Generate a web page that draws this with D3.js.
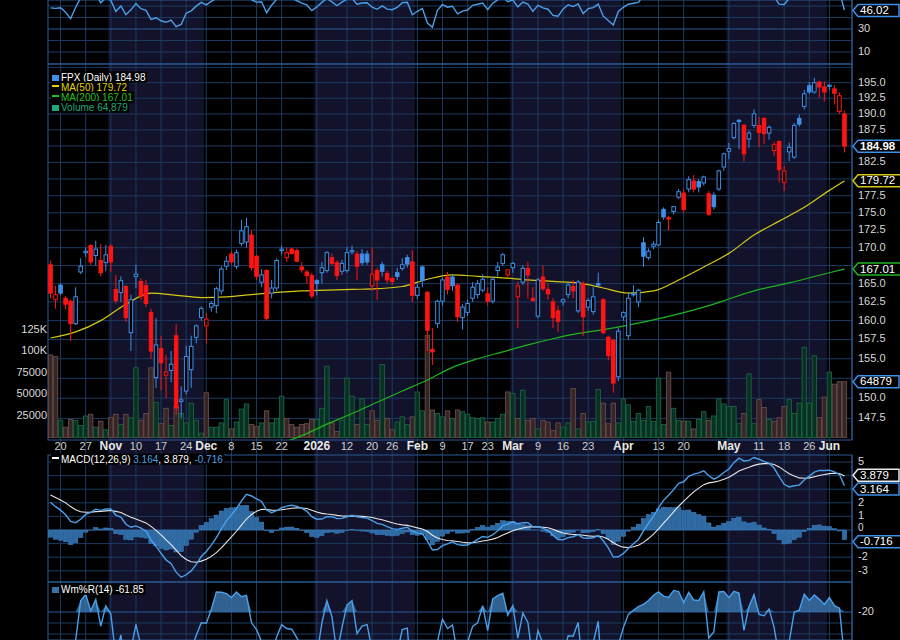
<!DOCTYPE html>
<html>
<head>
<meta charset="utf-8">
<script src="https://cdn.jsdelivr.net/npm/d3@7"></script>
<style>
  body { margin: 0; background: #000; }
  svg { display: block; font-family: "Liberation Sans", Arial, sans-serif; }
</style>
</head>
<body>
<svg id="chart" width="900" height="640"></svg>
<script>
// trading calendar
const firstDay = new Date(2025, 9, 16);
const lastDay = new Date(2026, 5, 6);
const holidays = ["2025-11-27", "2025-12-25", "2026-01-01", "2026-01-19", "2026-02-16", "2026-04-03", "2026-05-25"];

// daily prices
const opens = [167.6,162.8,164.8,163.0,162.6,159.6,166.6,169.3,170.3,168.9,168.2,167.9,170.2,164.2,163.8,164.6,158.4,166.0,165.3,164.7,
  161.1,152.6,156.3,152.9,153.5,158.0,149.6,150.9,153.6,157.8,160.4,159.3,161.8,162.0,164.0,167.4,169.1,167.4,170.6,170.8,
  171.8,168.8,165.2,166.8,163.7,164.4,169.6,168.6,169.8,169.6,167.3,166.6,166.1,165.4,166.5,166.8,168.6,167.9,166.7,166.8,
  169.4,169.1,169.1,169.1,164.7,166.8,167.6,166.4,165.7,166.5,167.1,168.6,168.0,163.4,167.3,163.8,156.2,159.6,162.6,165.9,
  165.9,164.8,160.4,161.1,163.0,163.5,164.1,163.6,162.6,166.8,167.8,166.2,167.2,163.2,165.2,167.1,163.0,160.6,165.9,164.2,
  162.5,161.3,162.5,163.5,164.6,161.3,165.0,161.8,161.2,165.0,162.8,157.8,157.4,152.7,160.5,158.0,163.5,162.5,170.7,168.6,
  170.2,170.4,175.5,174.3,175.2,177.3,177.9,178.5,179.7,179.6,179.4,177.8,177.6,178.5,181.8,184.2,186.3,189.0,188.2,186.1,
  188.2,188.2,189.3,187.0,184.3,185.7,179.5,184.1,183.3,189.3,191.2,194.5,193.5,195.1,194.3,194.4,194.0,190.4,190.0];
const highs = [168.2,164.7,165.0,163.3,162.8,164.5,168.5,170.0,170.5,171.0,170.5,170.4,170.5,166.2,166.0,164.8,163.5,167.6,165.7,165.5,
  161.6,160.3,158.0,155.5,156.0,159.5,151.5,156.7,158.0,159.5,161.9,161.0,162.6,164.6,167.4,168.8,169.5,169.7,174.0,174.3,
  172.5,169.0,167.0,167.0,165.5,168.5,170.3,170.0,170.0,169.9,168.0,166.9,166.5,165.6,168.0,169.5,169.2,168.2,168.3,170.1,
  170.3,169.5,169.8,169.6,170.0,167.2,168.0,166.8,166.0,167.2,168.5,169.0,169.6,165.0,167.5,164.0,159.0,162.8,165.8,166.6,
  166.2,165.0,162.2,162.8,165.2,165.5,166.3,164.5,165.9,168.0,169.3,167.0,168.0,165.3,167.5,168.0,164.5,165.8,167.5,165.0,
  163.0,162.0,163.0,165.2,165.5,165.5,165.3,163.0,164.5,166.5,163.0,158.0,157.6,159.0,161.2,163.8,164.8,164.3,171.5,169.9,
  170.9,174.0,175.8,174.6,176.0,178.5,178.5,180.4,180.6,180.0,180.5,178.2,178.0,181.4,184.0,185.5,188.7,189.2,188.4,187.4,
  190.7,189.5,189.5,188.2,185.6,185.9,182.0,185.5,188.6,189.9,193.8,195.1,195.8,195.3,195.2,194.8,194.6,193.4,190.5];
const lows = [163.0,161.6,163.4,161.5,157.3,159.4,166.3,168.7,167.6,167.5,166.0,166.7,166.6,162.3,162.5,159.8,156.0,164.4,162.8,161.8,
  155.0,151.3,151.0,150.0,152.0,148.0,147.5,150.5,151.3,157.0,160.0,157.0,161.2,161.0,163.5,166.9,167.6,167.0,170.2,170.0,
  166.8,165.5,164.5,160.0,163.0,164.0,169.0,168.0,169.0,168.0,166.5,165.0,163.0,163.4,165.0,166.5,167.5,165.5,166.2,166.5,
  169.0,165.5,167.5,167.6,164.0,162.8,166.0,165.0,164.8,165.5,166.8,167.2,162.5,162.9,164.5,156.0,154.2,159.0,162.0,163.5,
  164.0,159.8,158.8,160.6,162.5,163.0,163.8,162.0,162.3,166.0,167.4,165.8,166.5,159.0,164.8,163.0,162.5,160.3,164.0,162.8,
  159.0,158.5,162.0,163.0,163.0,161.0,158.0,161.3,160.8,164.5,158.2,154.8,150.7,152.2,160.0,157.5,163.2,161.8,167.3,168.3,
  169.8,170.2,174.0,172.5,174.8,177.0,175.0,178.0,178.0,178.0,179.0,174.5,175.5,178.2,181.2,183.0,186.0,184.5,182.6,184.7,
  187.8,184.8,185.3,186.0,183.5,179.5,178.2,182.7,183.0,188.0,190.7,193.2,193.2,192.6,192.0,193.8,191.5,190.0,184.0];
const closes = [163.7,163.5,163.7,162.2,159.6,163.2,167.4,169.5,168.0,169.8,166.5,169.0,168.0,162.7,165.4,160.4,162.8,166.3,163.3,162.3,
  156.0,156.8,154.5,153.3,154.3,148.8,149.8,155.3,156.6,159.3,161.6,160.2,162.3,164.3,167.0,168.1,168.0,169.3,172.4,173.0,
  167.2,166.0,166.2,160.3,164.4,168.2,169.8,169.3,169.2,168.1,166.9,166.1,163.3,165.0,167.2,169.3,167.8,166.1,167.8,169.3,
  169.6,167.4,167.9,168.0,166.3,165.5,166.7,165.5,165.3,166.0,167.6,167.7,163.4,164.5,165.4,158.7,155.9,162.6,165.5,164.2,
  164.7,160.5,161.8,162.3,164.5,165.0,165.6,162.6,165.6,167.3,169.0,166.9,167.8,164.7,167.1,166.2,162.7,165.5,164.3,163.6,
  160.4,159.9,162.8,164.8,164.0,165.2,160.5,162.7,163.2,164.8,158.4,155.4,151.9,158.6,161.1,163.0,163.6,164.1,168.8,169.5,
  170.5,173.6,174.4,174.1,175.9,178.1,175.5,179.9,178.5,178.8,180.3,174.8,175.9,181.2,183.8,184.6,188.5,188.8,183.8,187.0,
  190.0,187.1,186.9,187.9,185.2,181.4,181.2,184.8,188.2,188.4,193.2,193.5,195.0,194.3,193.5,194.6,193.3,192.9,184.98];
const volumes = [96000,94000,20000,12000,21000,20000,14000,25000,27000,12000,19000,9000,23000,27000,15000,27000,23000,81000,20000,28000,
  81000,41000,16000,34000,14000,36000,28000,17000,40000,20000,5000,52000,12000,12000,17000,44000,10000,18000,33000,39000,
  15000,13000,17000,31000,17000,22000,48000,22000,15000,12000,15000,16000,21000,21000,34000,83000,17000,7000,20000,69000,
  48000,15000,45000,15000,31000,20000,85000,22000,9000,18000,24000,15000,24000,53000,31000,119000,32000,28000,24000,31000,
  22000,32000,30000,27000,23000,22000,23000,18000,18000,22000,27000,53000,51000,22000,55000,20000,22000,10000,20000,18000,
  8000,17000,12000,17000,57000,10000,28000,18000,19000,56000,40000,16000,40000,17000,45000,38000,19000,28000,20000,36000,
  19000,69000,15000,76000,34000,20000,19000,19000,10000,21000,30000,20000,25000,45000,39000,36000,36000,16000,28000,74000,
  16000,44000,35000,21000,19000,23000,36000,44000,28000,40000,105000,40000,95000,23000,47000,76000,62000,64879,64879];

// moving averages (day index, value)
const ma50Days = [0,5,10,15,20,25,30,35,40,45,50,55,60,65,70,75,80,85,90,95,100,105,110,115,120,125,130,135,140,145,150,155,158];
const ma50 = [157.7,158.5,160.0,162.2,163.7,163.4,163.1,163.2,163.5,163.8,164.0,164.1,164.2,164.3,164.6,165.6,166.2,166.0,165.8,165.5,
  165.3,165.1,164.4,163.7,164.0,165.5,167.3,169.2,171.8,173.8,175.8,178.3,179.72];
const ma200Days = [45,50,55,60,65,70,75,80,85,90,95,100,105,110,115,120,125,130,135,140,145,150,155,158];
const ma200 = [144.3,145.4,146.8,148.1,149.5,150.9,152.3,153.9,155.0,155.9,156.8,157.6,158.3,158.8,159.4,160.1,160.9,161.8,162.9,164.0,
  164.8,165.6,166.5,167.01];

// indicator settings; seeds stand in for history left of the chart
const macdSeed = { ema12: 166.0, ema26: 163.6, signal: 2.7 };
const rsiSeed = { gain: 0.75, loss: 0.8 };
const priceTicks = d3.range(147.5, 197.6, 2.5);
const volTicks = [25000, 50000, 75000, 100000, 125000];
const macdTicks = [-3, -2, -1, 0, 1, 2, 3, 4, 5];

const svg = d3.select("#chart");
const W = 900, H = 640, L = 48, R = 852;
const P = { top: 64, bottom: 440 };          // price panel
const M = { top: 455, bottom: 582 };         // MACD panel
const WR = { top: 582, bottom: 640 };        // Williams %R

const blue = "#3d8fe8", red = "#ff1414", grid = "#1c3a60", gridHi = "#2b5b94";

// build trading dates
const hol = new Set(holidays);
const fmt = d3.timeFormat("%Y-%m-%d");
const dates = d3.timeDay.range(firstDay, lastDay).filter(d => d.getDay() > 0 && d.getDay() < 6 && !hol.has(fmt(d)));

const x = d3.scaleBand().domain(d3.range(dates.length)).range([L, R]);
const cx = i => x(i) + x.bandwidth() / 2;
const yP = d3.scaleLog().domain([145.18, 195]).range([437.5, 82.7]);
const yV = d3.scaleLinear().domain([0, 125000]).range([437.5, 330]);
const yM = d3.scaleLinear().domain([-3, 5]).range([570.8, 462]);
const yW = d3.scaleLinear().domain([-100, 0]).range([700, 590]);
const yR = d3.scaleLinear().domain([0, 50]).range([63.5, 6]);

svg.append("rect").attr("width", W).attr("height", H).attr("fill", "#000");

// month shading (Nov, Jan, Mar, May)
const monthStart = [];
dates.forEach((d, i) => { if (i === 0 || d.getMonth() !== dates[i - 1].getMonth()) monthStart.push(i); });
monthStart.forEach((s, k) => {
  const m = dates[s].getMonth();
  if (![10, 0, 2, 4].includes(m)) return;
  const e = k + 1 < monthStart.length ? monthStart[k + 1] : dates.length;
  svg.append("rect").attr("x", x(s)).attr("y", 0).attr("width", x(e - 1) + x.step() - x(s)).attr("height", H)
    .attr("fill", "#12122a");
});

// week / month labels
const labels = [];
let lastMonthLabel = -99;
dates.forEach((d, i) => {
  if (i === 0) return;
  const newWeek = d3.timeMonday.floor(d) > d3.timeMonday.floor(dates[i - 1]);
  const newMonth = d.getMonth() !== dates[i - 1].getMonth();
  if (newMonth) {
    labels.push({ i, text: d.getMonth() === 0 ? String(d.getFullYear()) : d3.timeFormat("%b")(d), bold: true });
    lastMonthLabel = i;
  } else if (newWeek) {
    if (i - lastMonthLabel < 4) return;
    const wkEnd = d3.timeDay.offset(d3.timeMonday.floor(d), 6);
    if (dates.some((q, j) => j > i && q <= wkEnd && q.getMonth() !== d.getMonth())) return;
    labels.push({ i, text: String(d.getDate()), bold: false });
  }
});

const g = svg.append("g");
labels.forEach(l => {
  g.append("line").attr("x1", cx(l.i)).attr("x2", cx(l.i)).attr("y1", 0).attr("y2", H)
    .attr("stroke", grid).attr("stroke-width", 1);
});
priceTicks.forEach(t => g.append("line").attr("x1", L).attr("x2", R).attr("y1", yP(t)).attr("y2", yP(t)).attr("stroke", grid));
[10, 20, 40, 50].forEach(t => g.append("line").attr("x1", L).attr("x2", R).attr("y1", yR(t)).attr("y2", yR(t)).attr("stroke", grid));
g.append("line").attr("x1", L).attr("x2", R).attr("y1", yR(30)).attr("y2", yR(30)).attr("stroke", gridHi);
macdTicks.forEach(t => g.append("line").attr("x1", L).attr("x2", R).attr("y1", yM(t)).attr("y2", yM(t)).attr("stroke", grid));
[-30, -40].forEach(t => g.append("line").attr("x1", L).attr("x2", R).attr("y1", yW(t)).attr("y2", yW(t)).attr("stroke", grid));
g.append("line").attr("x1", L).attr("x2", R).attr("y1", yW(-20)).attr("y2", yW(-20)).attr("stroke", gridHi);

// panel frames
[[0, P.top], [P.top, P.bottom], [M.top, M.bottom], [WR.top, H]].forEach(([a, b]) => {
  svg.append("rect").attr("x", L).attr("y", a).attr("width", R - L).attr("height", b - a)
    .attr("fill", "none").attr("stroke", gridHi).attr("stroke-width", 1);
});

// clip paths
const defs = svg.append("defs");
const clip = (id, a, b) => defs.append("clipPath").attr("id", id).append("rect").attr("x", L).attr("y", a).attr("width", R - L).attr("height", b - a);
clip("cP", P.top, P.bottom); clip("cR", 0, P.top); clip("cM", M.top, M.bottom); clip("cW", WR.top, H);

// volume
const pv = svg.append("g").attr("clip-path", "url(#cP)");
closes.forEach((c, i) => {
  const up = i === 0 ? c >= opens[i] : c >= closes[i - 1];
  pv.append("rect").attr("x", x(i) + 0.3).attr("width", x.step() - 0.6)
    .attr("y", yV(volumes[i])).attr("height", yV(0) - yV(volumes[i]))
    .attr("fill", up ? "#0a3021" : "#362525").attr("stroke", up ? "#1b6a48" : "#705050").attr("stroke-width", 0.8);
});

// moving averages
const line = d3.line().x(d => cx(d[0])).y(d => yP(d[1])).curve(d3.curveMonotoneX);
pv.append("path").attr("d", line(ma200Days.map((d, k) => [d, ma200[k]]))).attr("fill", "none").attr("stroke", "#1fb51f").attr("stroke-width", 1.2);
pv.append("path").attr("d", line(ma50Days.map((d, k) => [d, ma50[k]]))).attr("fill", "none").attr("stroke", "#d4c814").attr("stroke-width", 1.2);

// candles: colour vs previous close, filled when close < open
closes.forEach((c, i) => {
  const o = opens[i];
  const col = (i === 0 ? c >= o : c >= closes[i - 1]) ? blue : red;
  const filled = c < o;
  const bw = x.bandwidth() * 0.7;
  pv.append("line").attr("x1", cx(i)).attr("x2", cx(i)).attr("y1", yP(highs[i])).attr("y2", yP(lows[i]))
    .attr("stroke", col).attr("stroke-width", 1);
  const top = yP(Math.max(o, c)), bot = yP(Math.min(o, c));
  pv.append("rect").attr("x", cx(i) - bw / 2).attr("y", top).attr("width", bw).attr("height", Math.max(1, bot - top))
    .attr("fill", filled ? col : "#000").attr("stroke", col).attr("stroke-width", 1);
});

// RSI(14) from closes (Wilder smoothing)
const rsi = [];
let ag = rsiSeed.gain, al = rsiSeed.loss;
closes.forEach((c, i) => {
  if (i > 0) {
    const ch = c - closes[i - 1];
    ag = (ag * 13 + Math.max(ch, 0)) / 14;
    al = (al * 13 + Math.max(-ch, 0)) / 14;
  }
  rsi.push(100 - 100 / (1 + ag / al));
});
svg.append("g").attr("clip-path", "url(#cR)").append("path")
  .attr("d", d3.line().x((d, i) => cx(i)).y(d => yR(d))(rsi))
  .attr("fill", "none").attr("stroke", "#4aa0ea").attr("stroke-width", 1.4);

// MACD(12,26,9)
let e12 = macdSeed.ema12, e26 = macdSeed.ema26, sig = macdSeed.signal;
const macd = [], signal = [];
closes.forEach(c => {
  e12 += (c - e12) * 2 / 13; e26 += (c - e26) * 2 / 27;
  const m = e12 - e26; sig += (m - sig) * 2 / 10;
  macd.push(m); signal.push(sig);
});
const pm = svg.append("g").attr("clip-path", "url(#cM)");
macd.forEach((m, i) => {
  const h = m - signal[i];
  pm.append("rect").attr("x", x(i) + 0.3).attr("width", x.step() - 0.6)
    .attr("y", Math.min(yM(h), yM(0))).attr("height", Math.abs(yM(h) - yM(0)))
    .attr("fill", "#2f6aa3").attr("stroke", "#3f86c8").attr("stroke-width", 0.5);
});
const ml = d3.line().x((d, i) => cx(i)).y(d => yM(d));
pm.append("path").attr("d", ml(signal)).attr("fill", "none").attr("stroke", "#e8e8e8").attr("stroke-width", 1.1);
pm.append("path").attr("d", ml(macd)).attr("fill", "none").attr("stroke", "#4aa0ea").attr("stroke-width", 1.4);

// Williams %R(14)
const wr = closes.map((c, i) => {
  const s = Math.max(0, i - 13);
  const hh = d3.max(highs.slice(s, i + 1)), ll = d3.min(lows.slice(s, i + 1));
  return hh === ll ? -50 : (hh - c) / (hh - ll) * -100;
});
const pw = svg.append("g").attr("clip-path", "url(#cW)");
pw.append("path").attr("d", d3.area().x((d, i) => cx(i)).y0(yW(-20)).y1(d => yW(Math.max(d, -20)))(wr))
  .attr("fill", "#3a72a8").attr("opacity", 0.85);
pw.append("path").attr("d", d3.line().x((d, i) => cx(i)).y(d => yW(d))(wr))
  .attr("fill", "none").attr("stroke", "#4aa0ea").attr("stroke-width", 1.4);

// value tags on the right; last item is a small vertical nudge so stacked tags don't collide
const tags = [
  [yP(184.98), "184.98", "#3d8fe8", true, 0],
  [yP(179.72), "179.72", "#d4c814", false, 0],
  [yP(167.01), "167.01", "#1fb51f", false, 0],
  [yV(64879), "64879", "#3d8fe8", false, 0],
  [yR(46.02), "46.02", "#3d8fe8", false, 0],
  [yM(3.879), "3.879", "#e8e8e8", false, -2],
  [yM(3.164), "3.164", "#3d8fe8", false, 2],
  [yM(-0.716), "-0.716", "#3d8fe8", false, 2]
];
const hidden = yy => tags.some(t => Math.abs(t[0] - yy) < 9);

// axes text
const txt = (xx, yy, t, opt = {}) => svg.append("text").attr("x", xx).attr("y", yy).text(t)
  .attr("fill", opt.fill || "#d8d8d8").attr("font-size", opt.size || 11).attr("font-weight", opt.bold ? "bold" : "normal")
  .attr("text-anchor", opt.anchor || "start").attr("dominant-baseline", "middle");

priceTicks.forEach(t => { if (!hidden(yP(t)) && yP(t) > 75) txt(858, yP(t), t.toFixed(1)); });
[10, 30].forEach(t => txt(858, yR(t), String(t)));
volTicks.forEach(t => txt(47, yV(t), t >= 100000 ? (t / 1000) + "K" : String(t), { anchor: "end" }));
macdTicks.forEach(t => { if (!hidden(yM(t))) txt(858, yM(t) - (t === 0 ? 1.5 : 0), String(t), { size: t === 0 ? 10 : 11 }); });
txt(858, yW(-20), "-20");
[[P.top, P.bottom], [0, P.top], [M.top, M.bottom], [WR.top, H]].forEach(([a, b]) => {
  svg.append("line").attr("x1", R).attr("x2", R).attr("y1", a).attr("y2", b).attr("stroke", gridHi);
});
labels.forEach(l => txt(cx(l.i), 447, l.text, { anchor: "middle", bold: l.bold, fill: l.bold ? "#e8e8e8" : "#d0d0d0", size: l.bold ? 12 : 11 }));

tags.forEach(([y0, t, stroke, bold, dy]) => {
  const yy = y0 + dy;
  const gt = svg.append("g");
  const w = t.length * 6.6 + 8;
  gt.append("path").attr("d", `M${R + 1},${yy} l5,-6 h${w} v12 h${-w} z`)
    .attr("fill", "#000").attr("stroke", stroke).attr("stroke-width", 1.5);
  gt.append("text").attr("x", R + 8).attr("y", yy + 0.5).text(t).attr("fill", "#fff")
    .attr("font-size", 11.5).attr("font-weight", bold ? "bold" : "normal").attr("dominant-baseline", "middle");
});

// legends
function legend(xx, yy, parts, icon) {
  const lg = svg.append("g");
  const bg = lg.append("rect").attr("fill", "#000");
  lg.append("rect").attr("x", xx).attr("y", yy - 3).attr("width", 7).attr("height", icon === "line" ? 2 : 6).attr("fill", icon === "line" ? parts[0][1] : icon);
  const t = lg.append("text").attr("x", xx + 9).attr("y", yy).attr("font-size", 10).attr("dominant-baseline", "middle");
  parts.forEach(([s, c]) => t.append("tspan").text(s).attr("fill", c));
  const bb = t.node().getBBox();
  bg.attr("x", xx - 1).attr("y", bb.y).attr("width", bb.width + 11).attr("height", bb.height);
}
legend(52, 78, [["FPX (Daily) 184.98", "#ffffff"]], "#3d8fe8");
legend(52, 88, [["MA(50) 179.72", "#e0d400"]], "line");
legend(52, 98, [["MA(200) 167.01", "#22c022"]], "line");
legend(52, 108, [["Volume 64,879", "#1fa878"]], "#1fa878");
legend(52, 460, [["MACD(12,26,9) ", "#ffffff"], ["3.164", "#4aa0ea"], [", 3.879, ", "#ffffff"], ["-0.716", "#4aa0ea"]], "line");
legend(52, 590, [["Wm%R(14) -61.85", "#ffffff"]], "#3a72a8");
</script>
</body>
</html>
